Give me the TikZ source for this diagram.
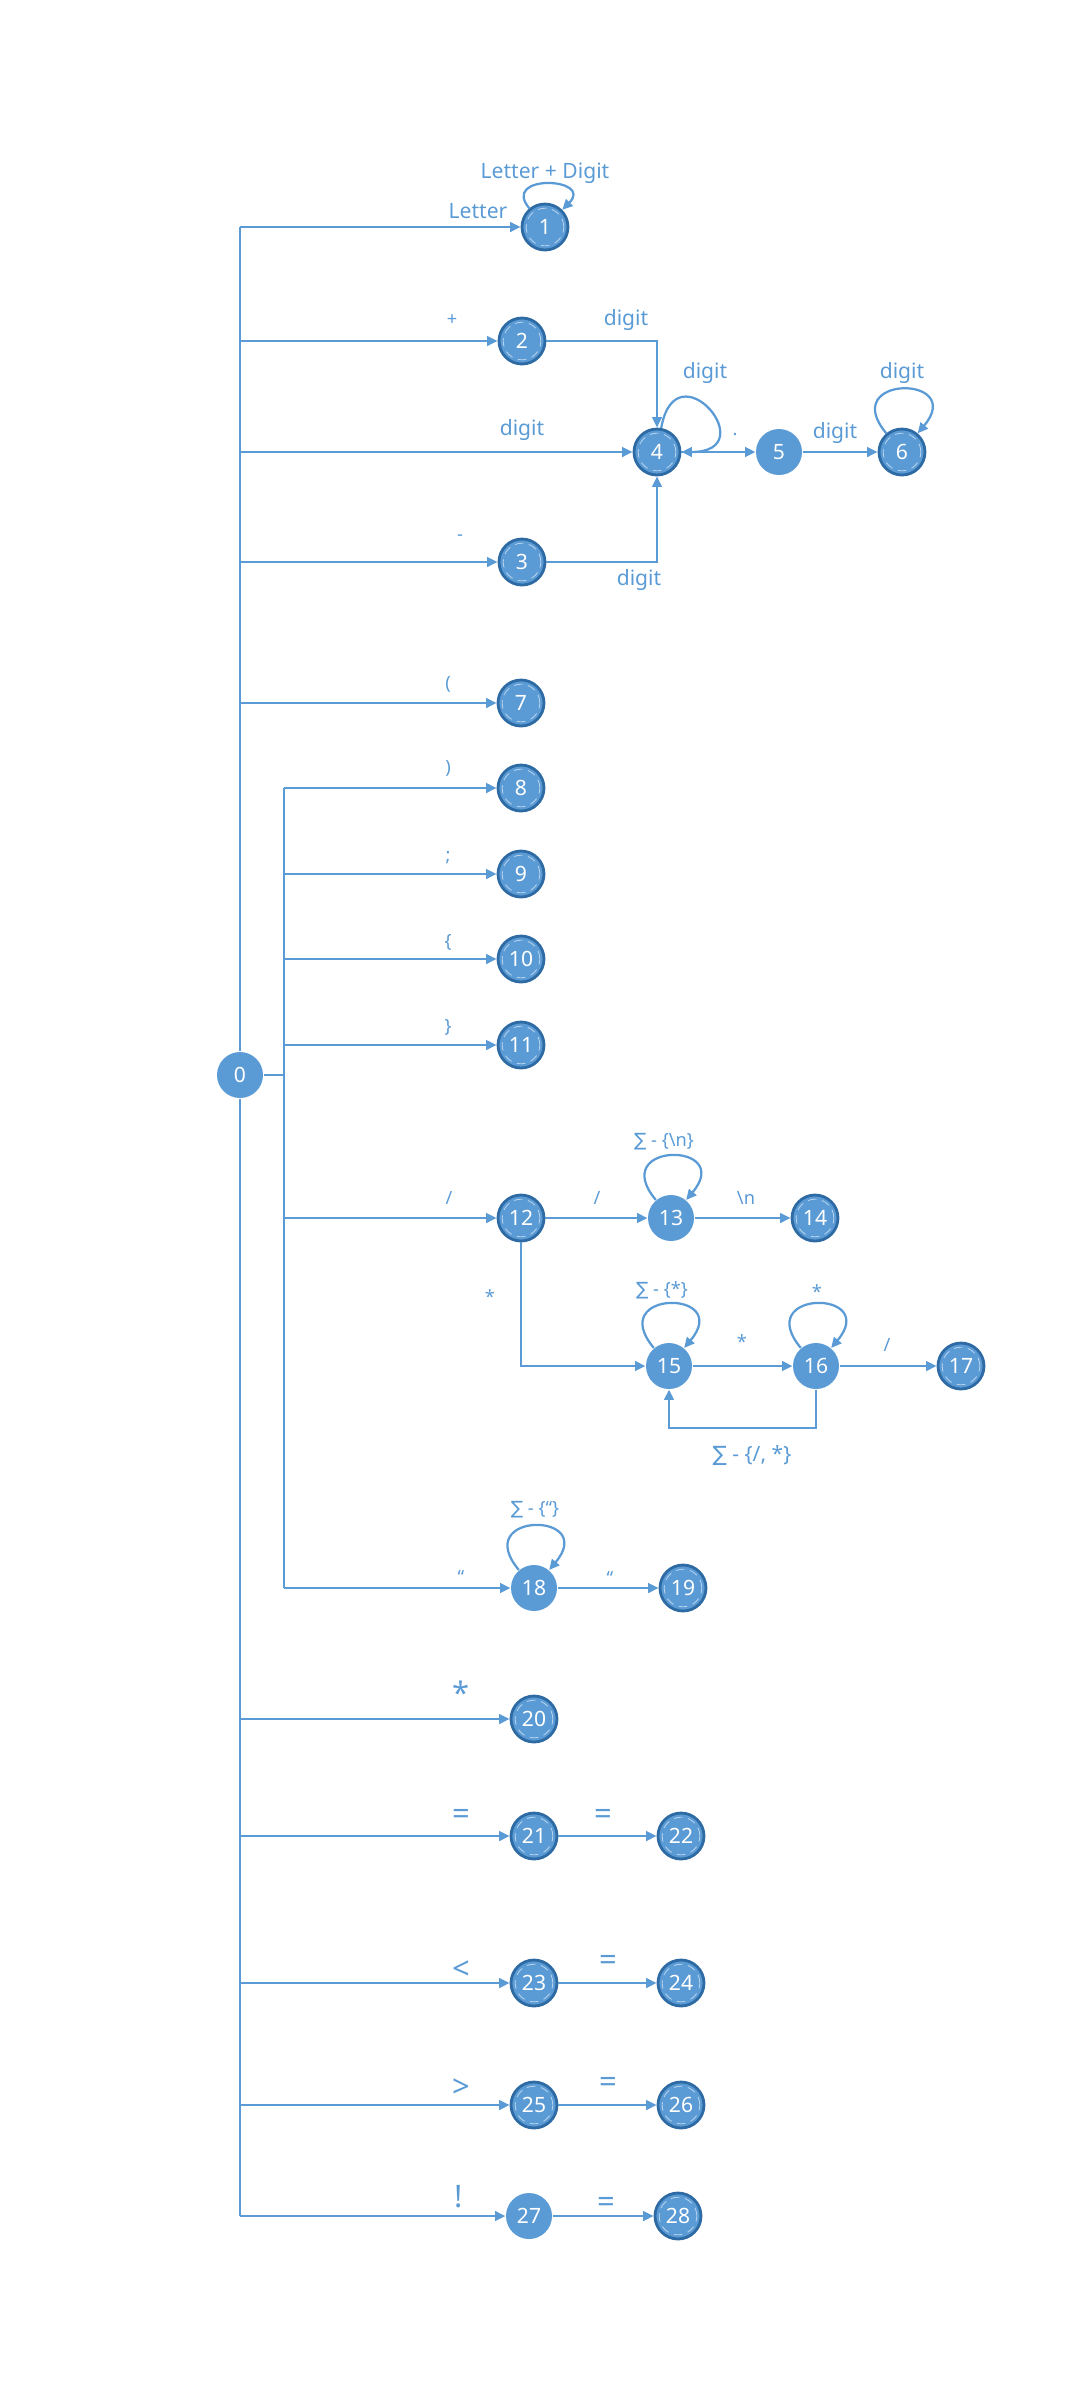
\documentclass[tikz,border=0pt]{standalone}
\usepackage{fontspec}
\setmainfont{Noto Sans}
\newfontfamily\sumfont{DejaVu Sans}
\usetikzlibrary{arrows.meta}

\definecolor{stblue}{HTML}{5B9BD5}
\definecolor{stdark}{HTML}{2E6AA3}
\newcommand{\allbut}[1]{{\sumfont ∑} - \{#1\}}

\tikzset{
  st/.style={circle,fill=stblue,minimum size=5.75mm,inner sep=0pt,text=white,font=\fontsize{7.5}{8}\selectfont},
  acc/.style={st,draw=stdark,line width=1pt,path picture={\draw[white!55!stblue,densely dashed,line width=0.3pt] (path picture bounding box.center) circle (2.35mm);}},
  wire/.style={draw=stblue,line width=0.8pt},
  arr/.style={wire,-{Triangle[length=1.3mm,width=1.2mm]}},
  lbl/.style={text=stblue,font=\fontsize{7.5}{9}\selectfont,inner sep=0pt},
  sym/.style={lbl,font=\fontsize{6.5}{8}\selectfont},
  big/.style={lbl,font=\fontsize{11}{12}\selectfont},
  loopup/.style={arr,out=130,in=50,distance=9.6mm},
}

\begin{document}
\begin{tikzpicture}[x=0.125mm,y=-0.125mm]
  \useasboundingbox (0,0) rectangle (1080,2400);

  % states
  \node[st]  (n0)  at (240,1075) {0};
  \node[acc] (n1)  at (545,227)  {1};
  \node[acc] (n2)  at (522,341)  {2};
  \node[acc] (n3)  at (522,562)  {3};
  \node[acc] (n4)  at (657,452)  {4};
  \node[st]  (n5)  at (779,452)  {5};
  \node[acc] (n6)  at (902,452)  {6};
  \node[acc] (n7)  at (521,703)  {7};
  \foreach \i/\y in {8/788,9/874,10/959,11/1045}
    \node[acc] (n\i) at (521,\y) {\i};
  \node[acc] (n12) at (521,1218) {12};
  \node[st]  (n13) at (671,1218) {13};
  \node[acc] (n14) at (815,1218) {14};
  \node[st]  (n15) at (669,1366) {15};
  \node[st]  (n16) at (816,1366) {16};
  \node[acc] (n17) at (961,1366) {17};
  \node[st]  (n18) at (534,1588) {18};
  \node[acc] (n19) at (683,1588) {19};
  \node[acc] (n20) at (534,1719) {20};
  \node[acc] (n21) at (534,1836) {21};
  \node[acc] (n22) at (681,1836) {22};
  \node[acc] (n23) at (534,1983) {23};
  \node[acc] (n24) at (681,1983) {24};
  \node[acc] (n25) at (534,2105) {25};
  \node[acc] (n26) at (681,2105) {26};
  \node[st]  (n27) at (529,2216) {27};
  \node[acc] (n28) at (678,2216) {28};

  \coordinate (tr) at (240,227);
  \coordinate (tr2) at (284,788);
  \coordinate (fb) at (0,1428);

  % trunks
  \draw[wire] (tr) -- (n0);
  \draw[wire] (n0) -- (tr |- n27);
  \draw[wire] (n0) -- (tr2 |- n0);
  \draw[wire] (tr2) -- (tr2 |- n18);

  \foreach \n in {n1,n2,n4,n3,n7,n20,n21,n23,n25,n27}
    \draw[arr] (tr |- \n) -- (\n);
  \foreach \n in {n8,n9,n10,n11,n12,n18}
    \draw[arr] (tr2 |- \n) -- (\n);

  \draw[arr] (n2) -| (n4);
  \draw[arr] (n3) -| (n4);
  \draw[arr] (n4) -- (n5);
  \draw[arr] (n5) -- (n6);
  \draw[arr] (n12) -- (n13);
  \draw[arr] (n13) -- (n14);
  \draw[arr] (n12) |- (n15);
  \draw[arr] (n15) -- (n16);
  \draw[arr] (n16) -- (n17);
  \draw[arr] (n16) -- (n16 |- fb) -| (n15);
  \draw[arr] (n18) -- (n19);
  \draw[arr] (n21) -- (n22);
  \draw[arr] (n23) -- (n24);
  \draw[arr] (n25) -- (n26);
  \draw[arr] (n27) -- (n28);

  % loops
  \draw[arr] (n1) to[out=130,in=45,distance=5.7mm] (n1);
  \draw[arr] (n4) to[out=80,in=0,distance=10.5mm] (n4);
  \draw[loopup] (n6) to (n6);
  \draw[loopup] (n13) to (n13);
  \draw[loopup] (n15) to (n15);
  \draw[loopup] (n16) to (n16);
  \draw[loopup] (n18) to (n18);

  % labels
  \node[lbl,anchor=east] (lLet) at (508,211) {Letter};
  \node[lbl] (lLD) at (545,173) {Letter + Digit};
  \node[sym] (lPl) at (452,320) {+};
  \node[lbl] (l24) at (626,320) {digit};
  \node[lbl] (l44) at (705,373) {digit};
  \node[lbl] (l04) at (522,430) {digit};
  \node[sym] (l45) at (735,435) {.};
  \node[lbl] (l56) at (835,433) {digit};
  \node[lbl] (l66) at (902,373) {digit};
  \node[sym] (lMi) at (460,538) {-};
  \node[lbl] (l34) at (639,580) {digit};
  \node[sym] (l7)  at (448,684) {(};
  \node[sym] (l8)  at (448,768) {)};
  \node[sym] (l9)  at (448,858) {;};
  \node[sym] (l10) at (448,942) {\{};
  \node[sym] (l11) at (448,1027) {\}};
  \node[sym] (l12) at (449,1198) {/};
  \node[sym] (l13) at (597,1198) {/};
  \node[sym] (l1313) at (664,1142) {\allbut{\textbackslash n}};
  \node[sym] (l14) at (746,1198) {\textbackslash n};
  \node[sym] (l15) at (490,1297) {*};
  \node[sym] (l1515) at (662,1290) {\allbut{*}};
  \node[sym] (l16) at (742,1342) {*};
  \node[sym] (l1616) at (817,1292) {*};
  \node[sym] (l17) at (887,1345) {/};
  \node[lbl] (l1615) at (752,1455) {\allbut{/, *}};
  \node[sym] (l1818) at (535,1510) {\allbut{“}};
  \node[sym] (l18) at (461,1577) {“};
  \node[sym] (l19) at (610,1578) {“};
  \node[big] (l20) at (461,1693) {*};
  \node[big] (l21) at (461,1817) {=};
  \node[big] (l22) at (603,1817) {=};
  \node[big] (l23) at (461,1970) {<};
  \node[big] (l24b) at (608,1963) {=};
  \node[big] (l25) at (461,2088) {>};
  \node[big] (l26) at (608,2085) {=};
  \node[big] (l27) at (459,2197) {!};
  \node[big] (l28) at (606,2205) {=};
\end{tikzpicture}
\end{document}
